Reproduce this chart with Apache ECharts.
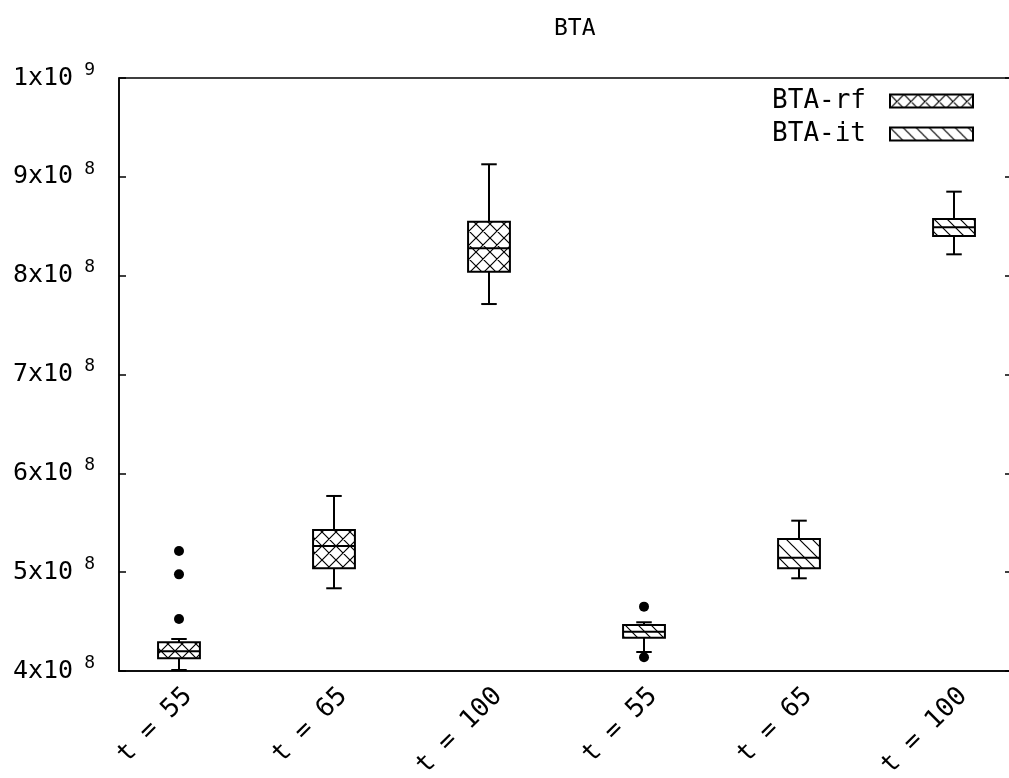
<!DOCTYPE html>
<html><head><meta charset="utf-8">
<script src="https://cdn.jsdelivr.net/npm/echarts@6/dist/echarts.min.js"></script>
<style>html,body{margin:0;padding:0;background:#fff;overflow:hidden}#c{width:1022px;height:778px}</style>
</head><body><div id="c"></div>
<script>
// ---- data ----
const categories = ['t = 55', 't = 65', 't = 100', 't = 55', 't = 65', 't = 100'];
const rfPositions = [1, 2, 3];
const rfMin = [4.01e8, 4.837e8, 7.713e8];
const rfQ1  = [4.128e8, 5.039e8, 8.04e8];
const rfMed = [4.20e8, 5.265e8, 8.277e8];
const rfQ3  = [4.29e8, 5.427e8, 8.546e8];
const rfMax = [4.324e8, 5.771e8, 9.127e8];
const rfOutlierPos = [1, 1, 1];
const rfOutlierVal = [5.214e8, 4.978e8, 4.526e8];

const itPositions = [4, 5, 6];
const itMin = [4.192e8, 4.938e8, 8.216e8];
const itQ1  = [4.337e8, 5.039e8, 8.401e8];
const itMed = [4.398e8, 5.146e8, 8.489e8];
const itQ3  = [4.465e8, 5.336e8, 8.574e8];
const itMax = [4.493e8, 5.521e8, 8.850e8];
const itOutlierPos = [4, 4];
const itOutlierVal = [4.651e8, 4.14e8];

const yMin = 4e8, yMax = 1e9, yStep = 1e8;
const seriesNames = ['BTA-rf', 'BTA-it'];

// ---- styling helpers ----
const MONO = 'DejaVu Sans Mono';
const BOX_W = 0.27, CAP_W = 0.1;
const LW = 2;

function makePattern(kind) {
  const s = kind === 'cross' ? 14 : 13;
  const c = document.createElement('canvas');
  c.width = s; c.height = s;
  const g = c.getContext('2d');
  g.fillStyle = '#fff'; g.fillRect(0, 0, s, s);
  g.strokeStyle = '#000'; g.lineWidth = 1.2;
  g.beginPath();
  g.moveTo(-1, -1); g.lineTo(s + 1, s + 1);
  g.moveTo(-1, s - 1); g.lineTo(1, s + 1);
  g.moveTo(s - 1, -1); g.lineTo(s + 1, 1);
  if (kind === 'cross') {
    g.moveTo(s + 1, -1); g.lineTo(-1, s + 1);
    g.moveTo(1, -1); g.lineTo(-1, 1);
    g.moveTo(s + 1, s - 1); g.lineTo(s - 1, s + 1);
  }
  g.stroke();
  return { image: c, repeat: 'repeat' };
}
const patCross = makePattern('cross');
const patHatch = makePattern('hatch');

function rows(pos, mn, q1, md, q3, mx) {
  return pos.map((p, i) => [p, mn[i], q1[i], md[i], q3[i], mx[i]]);
}
function pts(pos, vals) { return pos.map((p, i) => [p, vals[i]]); }

function boxRenderer(fill) {
  return function (params, api) {
    const x = api.value(0);
    const lo = api.coord([x, api.value(1)]);
    const q1 = api.coord([x, api.value(2)]);
    const md = api.coord([x, api.value(3)]);
    const q3 = api.coord([x, api.value(4)]);
    const hi = api.coord([x, api.value(5)]);
    const bw = api.size([BOX_W, 0])[0];
    const cw = api.size([CAP_W, 0])[0];
    const cx = lo[0];
    const ls = { stroke: '#000', lineWidth: LW };
    return {
      type: 'group',
      children: [
        { type: 'line', shape: { x1: cx, y1: q1[1], x2: cx, y2: lo[1] }, style: ls },
        { type: 'line', shape: { x1: cx, y1: q3[1], x2: cx, y2: hi[1] }, style: ls },
        { type: 'line', shape: { x1: cx - cw / 2, y1: lo[1], x2: cx + cw / 2, y2: lo[1] }, style: ls },
        { type: 'line', shape: { x1: cx - cw / 2, y1: hi[1], x2: cx + cw / 2, y2: hi[1] }, style: ls },
        { type: 'rect', shape: { x: cx - bw / 2, y: q3[1], width: bw, height: q1[1] - q3[1] },
          style: { fill: fill, stroke: '#000', lineWidth: LW } },
        { type: 'line', shape: { x1: cx - bw / 2, y1: md[1], x2: cx + bw / 2, y2: md[1] }, style: ls }
      ]
    };
  };
}

function yLabel(v) {
  const e = Math.floor(Math.log10(v) + 1e-9);
  const m = Math.round(v / Math.pow(10, e));
  return '{m|' + m + 'x10}{s|' + e + '}';
}

const chart = echarts.init(document.getElementById('c'), null, { renderer: 'canvas' });
chart.setOption({
  animation: false,
  backgroundColor: '#fff',
  title: {
    text: 'BTA', left: 549, top: 13,
    textStyle: { fontFamily: MONO, fontSize: 23, fontWeight: 'normal', color: '#000' }
  },
  legend: {
    data: [
      { name: seriesNames[0], icon: 'rect', itemStyle: { color: patCross, borderColor: '#000', borderWidth: LW } },
      { name: seriesNames[1], icon: 'rect', itemStyle: { color: patHatch, borderColor: '#000', borderWidth: LW } }
    ],
    orient: 'vertical', align: 'right', right: 43, top: 83,
    itemWidth: 83, itemHeight: 13, itemGap: 7,
    selectedMode: false,
    textStyle: { fontFamily: MONO, fontSize: 26, color: '#000', lineHeight: 26, padding: [0, 19, 0, 0] }
  },
  grid: {
    left: 119, top: 78, width: 895, height: 593,
    outerBoundsMode: 'none', containLabel: false,
    show: true, borderColor: '#000', borderWidth: 1.5, backgroundColor: 'transparent'
  },
  xAxis: {
    type: 'value', min: 0.613, max: 6.387,
    splitLine: { show: false },
    axisTick: { show: false },
    axisLine: { show: true, lineStyle: { color: '#000', width: 1.5 } },
    axisLabel: {
      customValues: [1, 2, 3, 4, 5, 6],
      formatter: v => categories[Math.round(v) - 1],
      rotate: 45, margin: 12, align: 'right', verticalAlign: 'top',
      fontFamily: MONO, fontSize: 26, color: '#000'
    }
  },
  yAxis: [
    {
      type: 'value', min: yMin, max: yMax, interval: yStep,
      splitLine: { show: false },
      axisLine: { show: true, lineStyle: { color: '#000', width: 1.5 } },
      axisTick: { show: true, inside: true, length: 7, lineStyle: { color: '#000', width: 1.5 } },
      axisLabel: {
        formatter: yLabel, margin: 24, color: '#000',
        rich: {
          m: { fontFamily: MONO, fontSize: 25, color: '#000' },
          s: { fontFamily: MONO, fontSize: 18, color: '#000', padding: [0, 0, 16, 11] }
        }
      }
    },
    {
      type: 'value', min: yMin, max: yMax, interval: yStep, position: 'right',
      splitLine: { show: false },
      axisLine: { show: true, lineStyle: { color: '#000', width: 1.5 } },
      axisTick: { show: true, inside: true, length: 9, lineStyle: { color: '#000', width: 1.5 } },
      axisLabel: { show: false }
    }
  ],
  series: [
    {
      name: seriesNames[0], type: 'custom',
      itemStyle: { color: patCross, borderColor: '#000', borderWidth: LW },
      encode: { x: 0, y: [1, 2, 3, 4, 5] },
      data: rows(rfPositions, rfMin, rfQ1, rfMed, rfQ3, rfMax),
      renderItem: boxRenderer(patCross)
    },
    {
      name: seriesNames[1], type: 'custom',
      itemStyle: { color: patHatch, borderColor: '#000', borderWidth: LW },
      encode: { x: 0, y: [1, 2, 3, 4, 5] },
      data: rows(itPositions, itMin, itQ1, itMed, itQ3, itMax),
      renderItem: boxRenderer(patHatch)
    },
    {
      name: 'rf-outliers', type: 'scatter', symbol: 'circle', symbolSize: 10,
      itemStyle: { color: '#000', opacity: 1 }, data: pts(rfOutlierPos, rfOutlierVal)
    },
    {
      name: 'it-outliers', type: 'scatter', symbol: 'circle', symbolSize: 10,
      itemStyle: { color: '#000', opacity: 1 }, data: pts(itOutlierPos, itOutlierVal)
    }
  ]
});
</script>
</body></html>
